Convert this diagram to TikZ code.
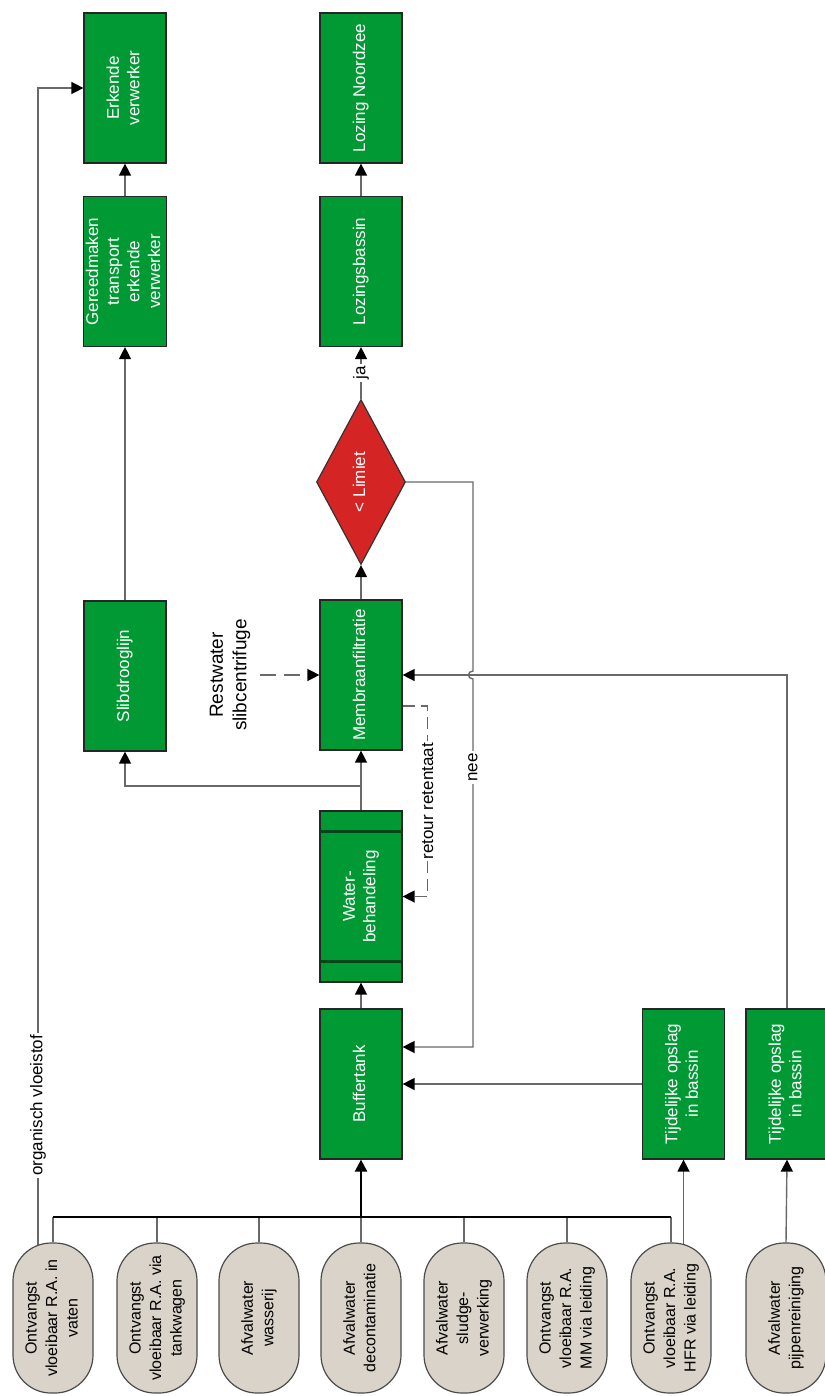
\documentclass[tikz,border=0pt]{standalone}
\usepackage{fontspec}
\setmainfont{Liberation Sans}
\usepackage{graphicx}
\usetikzlibrary{arrows.meta, shapes.geometric, positioning, calc, backgrounds}
\definecolor{ProcGreen}{RGB}{0,153,51}
\definecolor{ProcDark}{RGB}{0,70,25}
\definecolor{DecRed}{RGB}{213,36,36}
\definecolor{SrcBeige}{RGB}{217,211,201}
\definecolor{LineGray}{RGB}{105,105,105}
\newcommand{\vlab}[1]{\rotatebox{90}{\begin{tabular}{@{}c@{}}#1\end{tabular}}}

\begin{document}
\begin{tikzpicture}[x=0.5pt, y=-0.5pt, font=\fontsize{8.5}{10.3}\selectfont,
	proc/.style={rectangle, draw=black!85, line width=0.6pt, fill=ProcGreen, text=white,
		minimum width=41pt, minimum height=75pt, inner sep=0pt},
	src/.style={rectangle, rounded corners=19pt, draw=black!70, line width=0.6pt, fill=SrcBeige,
		minimum width=40pt, minimum height=75pt, inner sep=0pt, font=\fontsize{8}{10.3}\selectfont},
	dec/.style={diamond, aspect=0.54, draw=black!80, line width=0.6pt, fill=DecRed, text=white,
		minimum width=44.5pt, minimum height=82.5pt, inner sep=0pt},
	lbl/.style={fill=white, inner sep=1pt},
	ln/.style={draw=LineGray, line width=0.7pt},
	fl/.style={ln, -{Triangle[length=6pt, width=6pt, color=black]}},
	dfl/.style={fl, dash pattern=on 8pt off 4pt},
	bus/.style={draw=black, line width=1.2pt, -{Triangle[length=6pt, width=6pt]}}]

	\useasboundingbox (0,0) rectangle (824,1396);

	% ---------- bronnen ----------
	\node[src] (vaten) at (53,1318)  {\vlab{Ontvangst\\vloeibaar R.A. in\\vaten}};
	\node[src] (tank)  at (157,1318) {\vlab{Ontvangst\\vloeibaar R.A. via\\tankwagen}};
	\node[src] (was)   at (259,1318) {\vlab{Afvalwater\\wasserij}};
	\node[src] (deco)  at (361,1318) {\vlab{Afvalwater\\decontaminatie}};
	\node[src] (slud)  at (464,1318) {\vlab{Afvalwater\\sludge-\\verwerking}};
	\node[src] (mm)    at (567,1318) {\vlab{Ontvangst\\vloeibaar R.A.\\MM via leiding}};
	\node[src] (hfr)   at (671,1318) {\vlab{Ontvangst\\vloeibaar R.A.\\HFR via leiding}};
	\node[src] (pijp)  at (786,1318) {\vlab{Afvalwater\\pijpenreiniging}};

	% ---------- processtappen ----------
	\node[proc] (buf)   at (361,1084)  {\vlab{Buffertank}};
	\node[proc, minimum height=85.5pt] (wat) at (361,896.5) {\vlab{Water-\\behandeling}};
	\node[proc] (memb)  at (361,675)   {\vlab{Membraanfiltratie}};
	\node[dec]  (lim)   at (361,482)   {\vlab{< Limiet}};
	\node[proc] (lozb)  at (361,271.5) {\vlab{Lozingsbassin}};
	\node[proc] (lozn)  at (361,88)    {\vlab{Lozing Noordzee}};
	\node[proc] (slib)  at (125,676)   {\vlab{Slibdrooglijn}};
	\node[proc] (gereed) at (125,271.5) {\vlab{Gereedmaken\\transport\\erkende\\verwerker}};
	\node[proc] (erk)   at (125,88)    {\vlab{Erkende\\verwerker}};
	\node[proc] (tijd1) at (683.5,1084) {\vlab{Tijdelijke opslag\\in bassin}};
	\node[proc] (tijd2) at (787,1084)  {\vlab{Tijdelijke opslag\\in bassin}};
	\draw[ProcDark, line width=1.2pt] ($(wat.north west)+(1,21)$) -- ($(wat.north east)+(-1,21)$);
	\draw[ProcDark, line width=1.2pt] ($(wat.south west)+(1,-21)$) -- ($(wat.south east)+(-1,-21)$);

	\node[font=\fontsize{9.5}{11.7}\selectfont] (rest) at (230,675) {\vlab{Restwater\\slibcentrifuge}};

	% ---------- verzamelleiding ----------
	\coordinate (busL) at (53,1217);
	\coordinate (busR) at (671,1217);
	\coordinate (org)  at (38,88);
	\coordinate (hop)  at (473,675);
	\coordinate (split) at (361,786);
	\foreach \s in {vaten,tank,was,deco,slud,mm,hfr}{
		\draw[ln] (\s.north) -- (\s.north |- busL);
	}
	\draw[draw=black, line width=1pt] (busL) -- (busR);
	\draw[bus] (buf |- busL) -- (buf);

	\begin{scope}[on background layer]
		\draw[fl] (org |- vaten.center) -- node[lbl, pos=0.173] {\rotatebox{90}{organisch vloeistof}} (org) -- (erk.west);
		\draw[fl] (tijd1 |- hfr.center) -- (tijd1.south);
	\end{scope}

	% ---------- verbindingen ----------
	\draw[fl] (pijp.north) -- (tijd2.south);
	\draw[fl] (buf) -- (wat);
	\draw[fl] (wat) -- (memb);
	\draw[fl] (split) -| (slib);
	\draw[fl] (slib) -- (gereed);
	\draw[fl] (gereed) -- (erk);
	\draw[fl] (memb) -- (lim);
	\draw[fl] (lim) -- node[lbl] {\rotatebox{90}{ja}} (lozb);
	\draw[fl] (lozb) -- (lozn);
	\draw[fl] (tijd1) -- (buf);
	\draw[fl] (tijd2.north) |- (memb.east);
	\draw[fl] (lim.east) -| ($(hop)+(0,-4)$) .. controls ($(hop)+(-6,-4)$) and ($(hop)+(-6,4)$) .. ($(hop)+(0,4)$)
		|- node[lbl, pos=0.12] {\rotatebox{90}{nee}} ($(buf.east)+(0,-37)$);
	\draw[dfl, dash pattern=on 6pt off 3pt] ($(memb.east)+(0,31)$) -- ++(25,0)
		|- node[lbl, pos=0.25] {\rotatebox{90}{retour retentaat}} (wat.east);
	\draw[dfl] (rest.east) -- (memb.west);
\end{tikzpicture}
\end{document}
